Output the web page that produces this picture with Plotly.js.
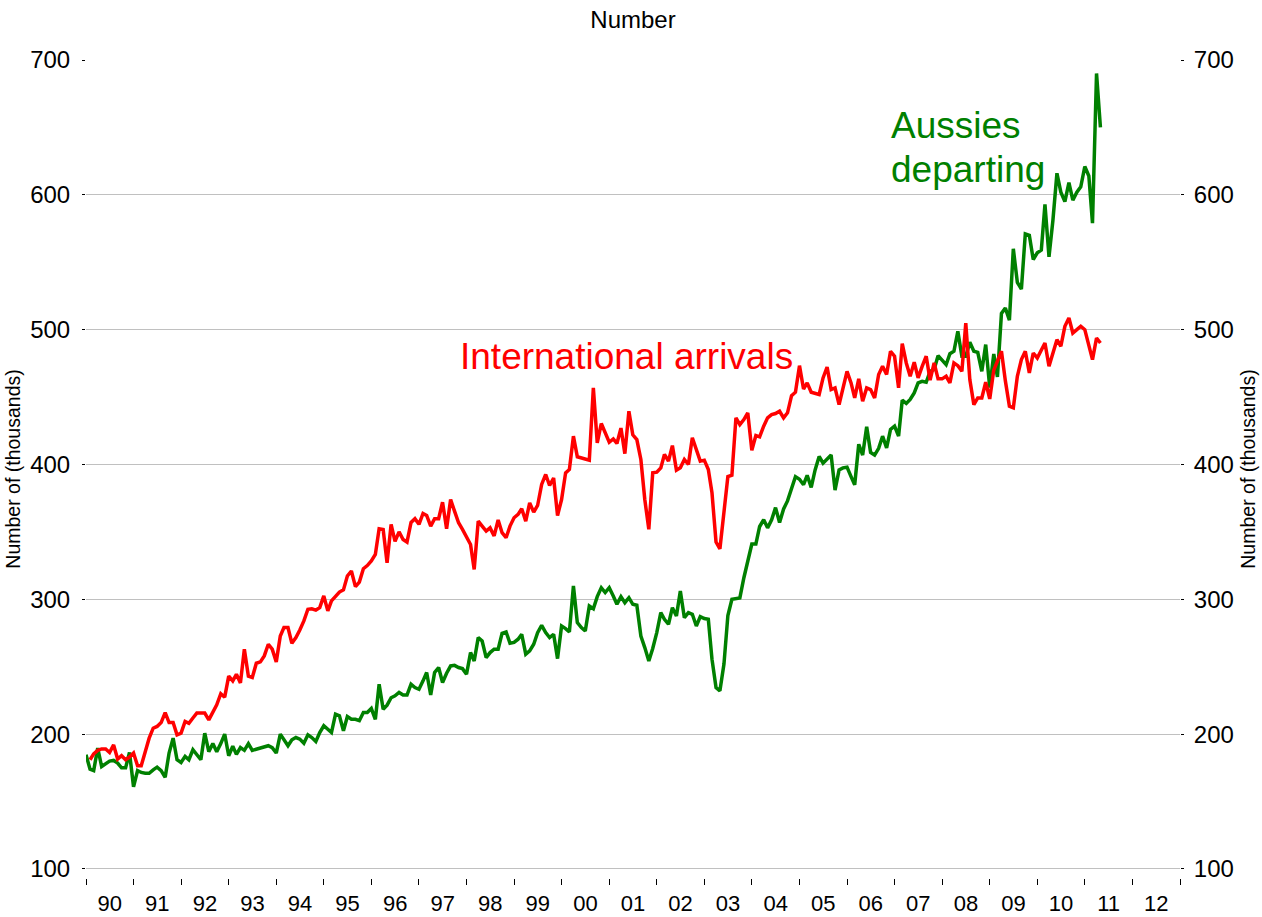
<!DOCTYPE html>
<html>
<head>
<meta charset="utf-8">
<script src="https://cdn.plot.ly/plotly-3.0.1.min.js"></script>
<style>
  html, body { margin: 0; padding: 0; background: #ffffff; }
  #chart { width: 1262px; height: 917px; }
</style>
</head>
<body>
<div id="chart"></div>
<script>
// Monthly series, Jan 1990 .. May 2011 (thousands)
const startYear = 1990;
const startMonth = 1;

// Aussies departing (green) - starts Jan 1990
const aussiesDeparting = [
  184.7, 174, 173, 189.6, 176, 178, 180, 180.5, 178.5, 175, 175, 186.4,
  161, 173, 171.6, 171, 171, 173.5, 175.5, 173, 168, 186, 197, 181,
  179, 183.5, 181, 188.4, 184.7, 181, 200.7, 187, 193, 187, 193, 200,
  184, 191, 185, 190, 188, 193, 188, 189, 190, 191, 191.4, 190,
  186, 200, 195.8, 191.4, 195.8, 197.5, 196.3, 193.3, 199.5, 197.5, 194.6, 201.2,
  206.2, 203.7, 201.2, 214.8, 213.6, 202.5, 213, 211, 211, 210, 216, 216,
  219, 211, 237, 218.5, 221.5, 227, 228.4, 230.9, 229, 229, 237, 234.6,
  233.3, 239.5, 245.7, 229, 245.7, 249.4, 238.3, 245.2, 250.6, 251, 249.4, 248.6,
  244.4, 260.5, 254.3, 271.6, 269.1, 256.8, 260.5, 263, 263, 274.8, 275.8, 267.4,
  268, 270.4, 274.1, 259.3, 261.7, 266.7, 275.3, 280.7, 275.3, 271.6, 274.1, 256,
  280.2, 278.3, 275.8, 309.9, 282.7, 279, 276.5, 295, 293, 302, 308.6, 305,
  308.6, 302.5, 296.3, 302, 297.5, 301.2, 296.3, 295.6, 272.8, 264.2, 254.3, 263.5,
  275.3, 290.1, 285.2, 281.5, 293.8, 287.7, 306.2, 286.4, 290.1, 288.9, 280.2, 287.2,
  285.7, 285.2, 255.6, 234.6, 232.1, 252, 288, 300, 300.5, 301, 316, 329,
  341, 341, 354, 359, 353, 359, 368, 357, 367, 373, 383, 391,
  389, 385, 392, 383, 396, 406, 401, 404, 407, 381, 396, 397.5,
  398, 391, 385, 415, 407, 428, 409, 407, 412, 421, 412.3, 426,
  428.4, 421, 447.7, 445.3, 448.2, 453.1, 460.5, 461.7, 461, 469.1, 470.4, 480.7,
  477.8, 474, 482.2, 484, 498.8, 480.3, 480.3, 490.6, 484, 483.2, 469.1, 488.9,
  457, 482, 465, 512, 516, 507, 560, 535, 530, 571, 570, 552,
  557, 559, 593, 554, 581, 616, 602, 595, 609, 596, 602, 606,
  621, 614, 579, 690, 650
];

// International arrivals (red) - first reading Feb 1990
const internationalArrivals = [
  null, 181, 185.4, 188, 189, 189, 186.4, 192, 181.5, 184, 181, 183,
  186, 176.5, 176.5, 187, 197, 204.4, 205.7, 208.6, 216, 208.6, 208.6, 199.5,
  200.7, 209.4, 208, 212, 215.6, 215.6, 215.6, 210.6, 216.8, 221.8, 230, 227.4,
  243, 239.5, 244.4, 238, 263, 243, 242, 252.6, 253.6, 258, 266.7, 263,
  253.6, 272.8, 279, 279, 267.4, 271.6, 277.3, 284, 292.6, 293, 292, 293.8,
  302.5, 291.4, 298.8, 302.5, 305.4, 307, 317.3, 321, 309.4, 312.8, 322.7, 325,
  328.4, 333.3, 352.3, 351.8, 327, 355.6, 343, 350, 344.4, 342.5, 357, 359.8,
  355.6, 363.7, 362.2, 354.3, 359.8, 359.8, 372, 352.3, 374, 365.4, 356.8, 351.9,
  345.7, 340.7, 322.2, 358, 354.3, 350.6, 353, 347, 358.8, 349.4, 345.7, 354.3,
  360.5, 363, 367.2, 358, 371.5, 364.7, 369.6, 385.2, 392.6, 384.4, 390, 362.2,
  374, 393.8, 396.3, 421, 405.7, 405, 404.2, 403.2, 456.8, 416, 430.4, 423,
  416.5, 419, 415.6, 427, 408, 439.5, 422, 418.5, 403.7, 374, 351.9, 393.8,
  394.3, 397.5, 407.4, 402.5, 414, 395.8, 397.5, 403.7, 400, 419.8, 409.9, 402.5,
  403.2, 396.3, 379, 342.5, 337.5, 365, 391, 392, 434.6, 429.6, 433.3, 438.3,
  410.6, 421.5, 420.5, 428.4, 434.6, 437, 437.8, 439.5, 434.6, 438.3, 451.1, 453.6,
  473.3, 456, 460.5, 453.6, 452.6, 451.9, 464.2, 472.3, 455.6, 456.8, 444.4, 455.6,
  469.1, 460.5, 449.4, 463.5, 446.9, 456.8, 455.6, 449.4, 466.7, 472.8, 466.7, 484,
  480.3, 456.8, 489.6, 475.3, 465.4, 475.8, 464.2, 472.8, 480.3, 462.5, 475.3, 463.5,
  463.5, 465.4, 460.5, 475.3, 473.3, 469.1, 504.9, 463, 444.4, 449.4, 449.4, 461,
  448.6, 470, 477, 484, 462, 443.2, 442, 465.4, 477.8, 484, 467.9, 482.7,
  479, 485.2, 490.1, 472.9, 482.7, 492.6, 487.7, 502.5, 508.7, 497.5, 500, 502.5,
  500, 487.7, 477.8, 493.8, 490.1
];

const yTickVals = [100, 200, 300, 400, 500, 600, 700];
const yTickText = ['100', '200', '300', '400', '500', '600', '700'];
const xRange = ['1990-01-01', '2013-01-01'];

const chartTitle = 'Number';
const yTitle = 'Number of (thousands)';
const redLabel = 'International arrivals';
const greenLabel1 = 'Aussies';
const greenLabel2 = 'departing';

// monthly dates
const months = [];
const nMonths = Math.max(aussiesDeparting.length, internationalArrivals.length);
for (let i = 0; i < nMonths; i++) {
  const t = (startMonth - 1) + i;
  const y = startYear + Math.floor(t / 12);
  const m = (t % 12) + 1;
  months.push(y + '-' + (m < 10 ? '0' + m : m) + '-01');
}

const FONT = 'Liberation Sans, Arial, Helvetica, sans-serif';
const RED = '#ff0000';
const GREEN = '#008000';

const traces = [
  {
    x: months.slice(0, aussiesDeparting.length),
    y: aussiesDeparting,
    type: 'scatter', mode: 'lines',
    line: { color: GREEN, width: 3.5 },
    name: 'Aussies departing',
    yaxis: 'y', hoverinfo: 'x+y'
  },
  {
    x: months.slice(0, internationalArrivals.length),
    y: internationalArrivals,
    type: 'scatter', mode: 'lines',
    line: { color: RED, width: 3.5 },
    name: 'International arrivals',
    connectgaps: false,
    yaxis: 'y2', hoverinfo: 'x+y'
  }
];

const yRange = [93.3, 700];

const yCommon = {
  range: yRange,
  tickmode: 'array',
  tickvals: yTickVals,
  ticktext: yTickText,
  ticks: 'outside',
  ticklen: 3,
  tickwidth: 1,
  tickcolor: '#000000',
  tickfont: { family: FONT, size: 24, color: '#000000' },
  ticklabelstandoff: 7,
  showline: false,
  zeroline: false,
  fixedrange: true
};

const layout = {
  width: 1262,
  height: 917,
  margin: { l: 86, r: 82, t: 60, b: 39 },
  paper_bgcolor: '#ffffff',
  plot_bgcolor: '#ffffff',
  showlegend: false,
  font: { family: FONT, color: '#000000' },
  title: {
    text: chartTitle,
    font: { family: FONT, size: 24, color: '#000000' },
    x: 0.5, xref: 'paper', xanchor: 'center',
    y: 1 - 20 / 917, yref: 'container', yanchor: 'middle'
  },
  xaxis: {
    type: 'date',
    range: xRange,
    tick0: '1990-01-01',
    dtick: 'M12',
    tickformat: '%y',
    ticklabelmode: 'period',
    ticks: 'outside',
    ticklen: 6,
    tickwidth: 1,
    tickcolor: '#000000',
    tickfont: { family: FONT, size: 22, color: '#000000' },
    ticklabelstandoff: 0,
    showgrid: false,
    showline: false,
    zeroline: false,
    fixedrange: true
  },
  yaxis: Object.assign({}, yCommon, {
    side: 'left',
    showgrid: true,
    gridcolor: '#c0c0c0',
    gridwidth: 1,
    title: { text: yTitle, font: { family: FONT, size: 19.5, color: '#000000' }, standoff: 4 }
  }),
  yaxis2: Object.assign({}, yCommon, {
    side: 'right',
    overlaying: 'y',
    anchor: 'x',
    showgrid: false,
    ticklabelstandoff: 5,
    title: { text: yTitle, font: { family: FONT, size: 19.5, color: '#000000' }, standoff: 8 }
  }),
  annotations: [
    {
      text: redLabel,
      xref: 'paper', yref: 'paper',
      x: (458 - 86) / 1094, y: (878 - 356) / 818,
      xanchor: 'left', yanchor: 'middle',
      showarrow: false,
      font: { family: FONT, size: 37, color: RED }
    },
    {
      text: greenLabel1,
      xref: 'paper', yref: 'paper',
      x: (889 - 86) / 1094, y: (878 - 126) / 818,
      xanchor: 'left', yanchor: 'middle',
      showarrow: false,
      font: { family: FONT, size: 37, color: GREEN }
    },
    {
      text: greenLabel2,
      xref: 'paper', yref: 'paper',
      x: (889 - 86) / 1094, y: (878 - 169) / 818,
      xanchor: 'left', yanchor: 'middle',
      showarrow: false,
      font: { family: FONT, size: 37, color: GREEN }
    }
  ]
};

Plotly.newPlot('chart', traces, layout, { displayModeBar: false, staticPlot: true });
</script>
</body>
</html>
